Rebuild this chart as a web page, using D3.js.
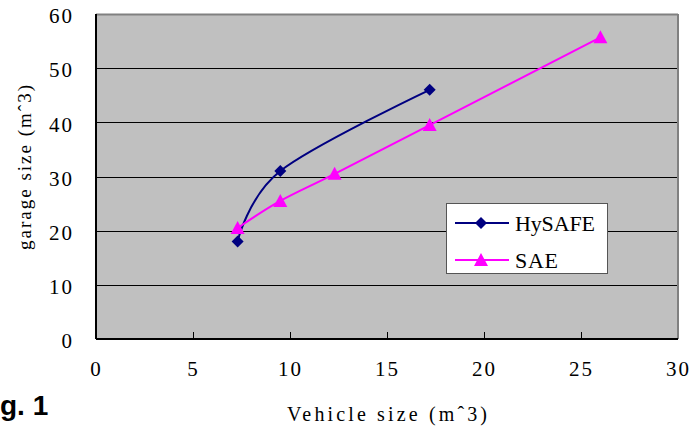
<!DOCTYPE html>
<html><head><meta charset="utf-8">
<script src="https://cdn.jsdelivr.net/npm/d3@7"></script>
<style>
body{margin:0;background:#fff}svg{display:block}
</style>
</head><body>
<svg id="c" width="694" height="430"></svg>
<script>
const xTicks = [0, 5, 10, 15, 20, 25, 30];
const yTicks = [0, 10, 20, 30, 40, 50, 60];
const hysafeX = [7.3, 9.5, 17.2];
const hysafeY = [18, 31, 46];
const saeX = [7.3, 9.5, 12.3, 17.2, 26];
const saeY = [20.5, 25.5, 30.5, 39.5, 55.7];
const seriesNames = ["HySAFE", "SAE"];
const xTitle = "Vehicle size (mˆ3)";
const yTitle = "garage size (mˆ3)";
const figLabel = "g. 1";

const SERIF = '"Liberation Serif", "DejaVu Serif", serif';
const SANS = '"Liberation Sans", Arial, sans-serif';

const svg = d3.select("#c");
const L = 96, R = 678, T = 14, B = 339;
const x = d3.scaleLinear().domain([0, 30]).range([L, R]);
const y = d3.scaleLinear().domain([0, 60]).range([B, T]);

svg.append("rect").attr("x", L).attr("y", T).attr("width", R - L).attr("height", B - T).attr("fill", "#c0c0c0");

// gridlines
svg.append("g").selectAll("line").data(yTicks.filter(d => d > 0 && d < 60)).join("line")
  .attr("x1", L).attr("x2", R).attr("y1", d => Math.round(y(d)) + 0.5).attr("y2", d => Math.round(y(d)) + 0.5)
  .attr("stroke", "#000").attr("stroke-width", 1);

// frame: top/right grey, left/bottom black
svg.append("line").attr("x1", L).attr("x2", R).attr("y1", T + 0.5).attr("y2", T + 0.5).attr("stroke", "#808080").attr("stroke-width", 2);
svg.append("line").attr("x1", R).attr("x2", R).attr("y1", T).attr("y2", B).attr("stroke", "#808080").attr("stroke-width", 2);

// x axis
const xAxis = d3.axisBottom(x).tickValues(xTicks).tickSize(-7).tickPadding(20).tickFormat(d3.format("d"));
const gx = svg.append("g").attr("transform", `translate(0,${B})`).call(xAxis);
gx.select(".domain").attr("stroke", "#000").attr("stroke-width", 2).attr("d", `M${L},0H${R}`);
gx.selectAll(".tick line").attr("stroke", "#000");
gx.selectAll(".tick").filter(d => d === 0 || d === 30).select("line").remove();
gx.selectAll("text").style("font-family", SERIF).style("font-size", "21px").style("letter-spacing", "2px")
  .attr("fill", "#000").attr("dy", "0.71em").attr("y", 22);

// y axis
const yAxis = d3.axisLeft(y).tickValues(yTicks).tickSize(0).tickPadding(22).tickFormat(d3.format("d"));
const gy = svg.append("g").attr("transform", `translate(${L},0)`).call(yAxis);
gy.select(".domain").attr("stroke", "#000").attr("stroke-width", 2).attr("d", `M0,${T}V${B}`);
gy.selectAll("text").style("font-family", SERIF).style("font-size", "21px").style("letter-spacing", "2px")
  .attr("fill", "#000").attr("dy", "0.42em");

// lines
const line = d3.line().x(d => x(d[0])).y(d => y(d[1])).curve(d3.curveCatmullRom.alpha(0));
const hData = hysafeX.map((v, i) => [v, hysafeY[i]]);
const sData = saeX.map((v, i) => [v, saeY[i]]);
svg.append("path").datum(hData).attr("d", line).attr("fill", "none").attr("stroke", "#000080").attr("stroke-width", 2);
svg.append("path").datum(sData).attr("d", line).attr("fill", "none").attr("stroke", "#ff00ff").attr("stroke-width", 2);

const diamondPath = "M0,-6L6,0L0,6L-6,0Z";
const triPath = "M0,-7L7,6L-7,6Z";
svg.append("g").selectAll("path").data(hData).join("path")
  .attr("d", diamondPath).attr("transform", d => `translate(${x(d[0])},${y(d[1])})`).attr("fill", "#000080");
svg.append("g").selectAll("path").data(sData).join("path")
  .attr("d", triPath).attr("transform", d => `translate(${x(d[0])},${y(d[1])})`).attr("fill", "#ff00ff");

// legend
const lg = svg.append("g");
lg.append("rect").attr("x", 446.5).attr("y", 203.5).attr("width", 161).attr("height", 70)
  .attr("fill", "#fff").attr("stroke", "#555").attr("stroke-width", 1);
const legendItems = [
  {name: seriesNames[0], color: "#000080", shape: diamondPath, y: 223, w: 80},
  {name: seriesNames[1], color: "#ff00ff", shape: triPath, y: 260, w: 43}
];
legendItems.forEach(it => {
  lg.append("line").attr("x1", 455).attr("x2", 509).attr("y1", it.y).attr("y2", it.y).attr("stroke", it.color).attr("stroke-width", 2);
  lg.append("path").attr("d", it.shape).attr("transform", `translate(481,${it.y})`).attr("fill", it.color);
  lg.append("text").style("font-family", SERIF).attr("x", 515).attr("y", it.y + 8).style("font-size", "22px")
    .attr("textLength", it.w).attr("lengthAdjust", "spacing").text(it.name);
});

// titles
svg.append("text").style("font-family", SERIF).attr("x", 287).attr("y", 421).style("font-size", "20px")
  .attr("textLength", 200).attr("lengthAdjust", "spacing").text(xTitle);
svg.append("text").style("font-family", SERIF).attr("transform", "translate(31,250) rotate(-90)").style("font-size", "19px")
  .attr("textLength", 165).attr("lengthAdjust", "spacing").text(yTitle);

svg.append("text").style("font-family", SANS).attr("x", 0).attr("y", 415)
  .style("font-weight", "bold").style("font-size", "28px").text(figLabel);
</script>
</body></html>
